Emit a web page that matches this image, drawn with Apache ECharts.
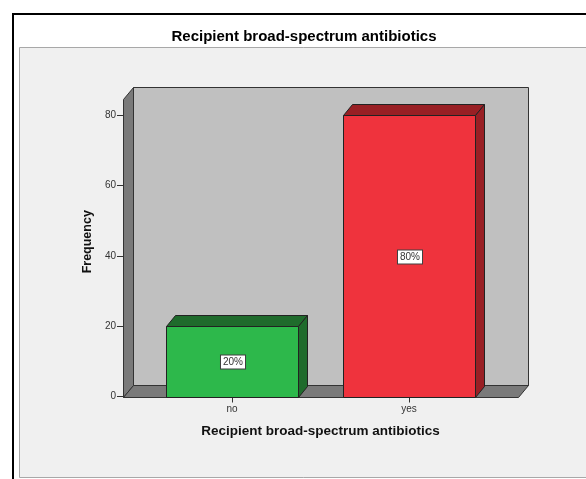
<!DOCTYPE html>
<html>
<head>
<meta charset="utf-8">
<script src="https://cdn.jsdelivr.net/npm/echarts@6/dist/echarts.min.js"></script>
<style>
  html, body { margin: 0; padding: 0; background: #fff; }
  #chart { width: 586px; height: 479px; }
</style>
</head>
<body>
<div id="chart"></div>
<script>
// data
const categories = ['no', 'yes'];
const frequencies = [20, 80];
const percentLabels = ['20%', '80%'];

// styles
const faceColors = ['#2db84b', '#ef333d'];
const shadeColors = ['#1f6b2c', '#991f24'];
const FONT = '"Liberation Sans", Arial, sans-serif';

// axis extents
const Y_MAX = 80;
const FRAME_TOP = 84.5; // top of the 3D box walls, in frequency units

const chart = echarts.init(document.getElementById('chart'));

// back wall, left wall and floor of the 3D box
function renderFrame(params, api) {
  const p0 = api.coord([api.value(0), api.value(1)]);
  const p1 = api.coord([api.value(2), api.value(3)]);
  const x0 = Math.round(p0[0]) + 0.5, y0 = Math.round(p0[1]) + 0.5;
  const x1 = Math.round(p1[0]) + 0.5, y1 = Math.round(p1[1]) + 0.5;
  const dx = 10, dy = 12;
  const edge = { stroke: '#333', lineWidth: 1 };
  return {
    type: 'group',
    children: [
      { type: 'rect', shape: { x: x0 + dx, y: y1 - dy, width: x1 - x0, height: y0 - y1 },
        style: Object.assign({ fill: '#c0c0c0' }, edge) },
      { type: 'polygon', shape: { points: [[x0, y0], [x0, y1], [x0 + dx, y1 - dy], [x0 + dx, y0 - dy]] },
        style: Object.assign({ fill: '#7a7a7a' }, edge) },
      { type: 'polygon', shape: { points: [[x0, y0], [x1, y0], [x1 + dx, y0 - dy], [x0 + dx, y0 - dy]] },
        style: Object.assign({ fill: '#7a7a7a' }, edge) }
    ]
  };
}

// 3D bar: front face + top + right side + percent box
function renderBar(params, api) {
  const i = api.value(0);
  const top = api.coord([i, api.value(1)]);
  const base = api.coord([i, 0]);
  const w = api.size([1, 0])[0] * 0.75;
  const xl = Math.round(top[0] - w / 2) + 0.5;
  const xr = Math.round(top[0] + w / 2) + 0.5;
  const yt = Math.round(top[1]) + 0.5;
  const yb = Math.round(base[1]) + 0.5;
  const dx = 9, dy = 11;
  const edge = { stroke: '#222', lineWidth: 1 };
  return {
    type: 'group',
    children: [
      { type: 'polygon', shape: { points: [[xl, yt], [xr, yt], [xr + dx, yt - dy], [xl + dx, yt - dy]] },
        style: Object.assign({ fill: shadeColors[i] }, edge) },
      { type: 'polygon', shape: { points: [[xr, yt], [xr + dx, yt - dy], [xr + dx, yb - dy], [xr, yb]] },
        style: Object.assign({ fill: shadeColors[i] }, edge) },
      { type: 'rect', shape: { x: xl, y: yt, width: xr - xl, height: yb - yt },
        style: Object.assign({ fill: faceColors[i] }, edge) },
      { type: 'text',
        style: {
          text: percentLabels[i],
          x: Math.round((xl + xr) / 2), y: Math.round((yt + yb) / 2),
          align: 'center', verticalAlign: 'middle',
          font: '10px ' + FONT, fill: '#333',
          backgroundColor: '#fff', borderColor: '#404040', borderWidth: 1,
          padding: [2, 2, 1, 2]
        } }
    ]
  };
}

const option = {
  animation: false,
  backgroundColor: '#fff',
  title: {
    text: 'Recipient broad-spectrum antibiotics',
    left: 299,
    top: 24,
    textAlign: 'center',
    textStyle: { fontFamily: FONT, fontSize: 15, fontWeight: 'bold', color: '#000' }
  },
  graphic: [
    { type: 'rect', z: -10, silent: true,
      shape: { x: 13, y: 14, width: 620, height: 520 },
      style: { fill: '#fff', stroke: '#000', lineWidth: 2 } },
    { type: 'rect', z: -9, silent: true,
      shape: { x: 19.5, y: 47.5, width: 620, height: 430 },
      style: { fill: '#f0f0f0', stroke: '#a8a8a8', lineWidth: 1 } }
  ],
  grid: [
    { left: 123, right: 68, top: 115, bottom: 82.5 },     // box walls
    { left: 143.5, right: 88.5, top: 115, bottom: 82.5 }  // categories
  ],
  xAxis: [
    { gridIndex: 0, type: 'value', min: 0, max: 1, show: false },
    {
      gridIndex: 1,
      type: 'category',
      data: categories,
      boundaryGap: true,
      axisLine: { show: false },
      axisTick: { show: true, alignWithLabel: true, length: 6, lineStyle: { color: '#333' } },
      axisLabel: { margin: 8, fontFamily: FONT, fontSize: 10, color: '#333' },
      name: 'Recipient broad-spectrum antibiotics',
      nameLocation: 'middle',
      nameGap: 28,
      nameTextStyle: { fontFamily: FONT, fontSize: 13.5, fontWeight: 'bold', color: '#111' }
    }
  ],
  yAxis: [
    { gridIndex: 0, type: 'value', min: 0, max: Y_MAX, show: false },
    {
      gridIndex: 1,
      type: 'value',
      min: 0,
      max: Y_MAX,
      interval: 20,
      offset: 20.5,
      axisLine: { show: false },
      axisTick: { show: true, length: 6, lineStyle: { color: '#333' } },
      axisLabel: { margin: 7, fontFamily: FONT, fontSize: 10, color: '#333' },
      splitLine: { show: false },
      name: 'Frequency',
      nameLocation: 'middle',
      nameRotate: 90,
      nameGap: 26,
      nameTextStyle: { fontFamily: FONT, fontSize: 12.5, fontWeight: 'bold', color: '#111', padding: [0, 0, 0, 28] }
    }
  ],
  series: [
    {
      type: 'custom',
      xAxisIndex: 0,
      yAxisIndex: 0,
      z: 1,
      silent: true,
      renderItem: renderFrame,
      data: [[0, 0, 1, FRAME_TOP]]
    },
    {
      type: 'custom',
      xAxisIndex: 1,
      yAxisIndex: 1,
      z: 3,
      renderItem: renderBar,
      data: categories.map((c, i) => [i, frequencies[i]])
    }
  ]
};

chart.setOption(option);
</script>
</body>
</html>
